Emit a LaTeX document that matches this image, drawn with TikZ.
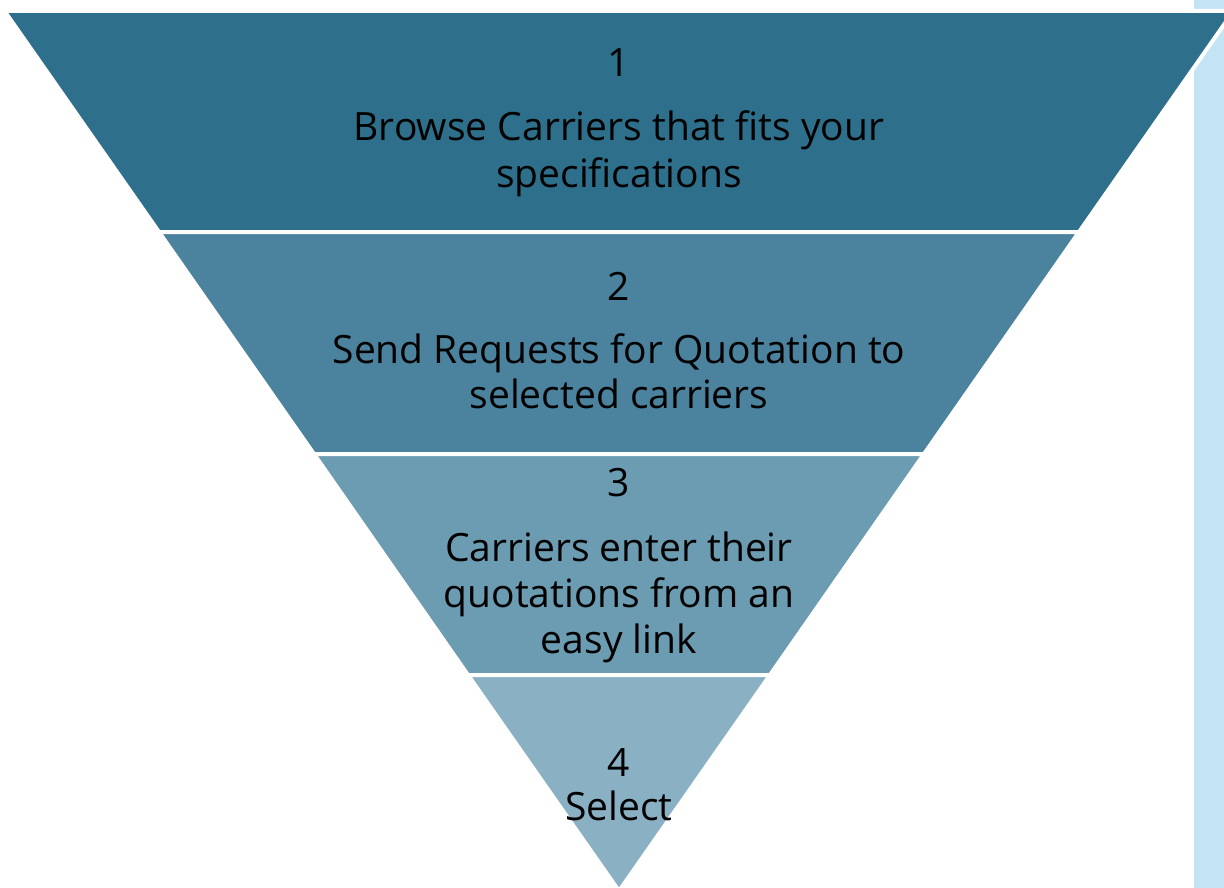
\documentclass[tikz,border=0pt]{standalone}
\usepackage{fontspec}
\setmainfont{Open Sans}
\definecolor{segA}{HTML}{2E708C}
\definecolor{segB}{HTML}{4B839E}
\definecolor{segC}{HTML}{6B9CB2}
\definecolor{segD}{HTML}{8AB0C3}
\definecolor{strip}{HTML}{C2E4F5}
\begin{document}
\begin{tikzpicture}[x=1pt,y=-1pt,
  seg/.style={draw=white,line width=4pt,line join=miter},
  lbl/.style={anchor=base,inner sep=0pt,text=black,font=\fontsize{39}{46}\selectfont}]
\useasboundingbox (0,0) rectangle (1224,888);
\begin{scope}
\clip (0,0) rectangle (1224,888);
\fill[strip] (1194,0) rectangle (1224,888);
% funnel segments: half width = 0.698*(891-y), centre x = 619
\path[seg,fill=segA] (4.5,11) -- (1233.5,11) -- (1079,232) -- (159,232) -- cycle;
\path[seg,fill=segB] (159,232) -- (1079,232) -- (924,454) -- (314,454) -- cycle;
\path[seg,fill=segC] (314,454) -- (924,454) -- (770,675) -- (468,675) -- cycle;
\path[seg,fill=segD] (468,675) -- (770,675) -- (619,891) -- cycle;
\end{scope}
\node[lbl] (n1) at (619,77) {1};
\node[lbl] (t1a) at (619,141) {Browse Carriers that fits your};
\node[lbl] (t1b) at (619,187) {specifications};
\node[lbl] (n2) at (619,300) {2};
\node[lbl] (t2a) at (619,363) {Send Requests for Quotation to};
\node[lbl] (t2b) at (619,408) {selected carriers};
\node[lbl] (n3) at (619,496) {3};
\node[lbl] (t3a) at (619,561) {Carriers enter their};
\node[lbl] (t3b) at (619,607) {quotations from an};
\node[lbl] (t3c) at (619,653) {easy link};
\node[lbl] (n4) at (619,776) {4};
\node[lbl] (t4a) at (619,820) {Select};
\end{tikzpicture}
\end{document}
